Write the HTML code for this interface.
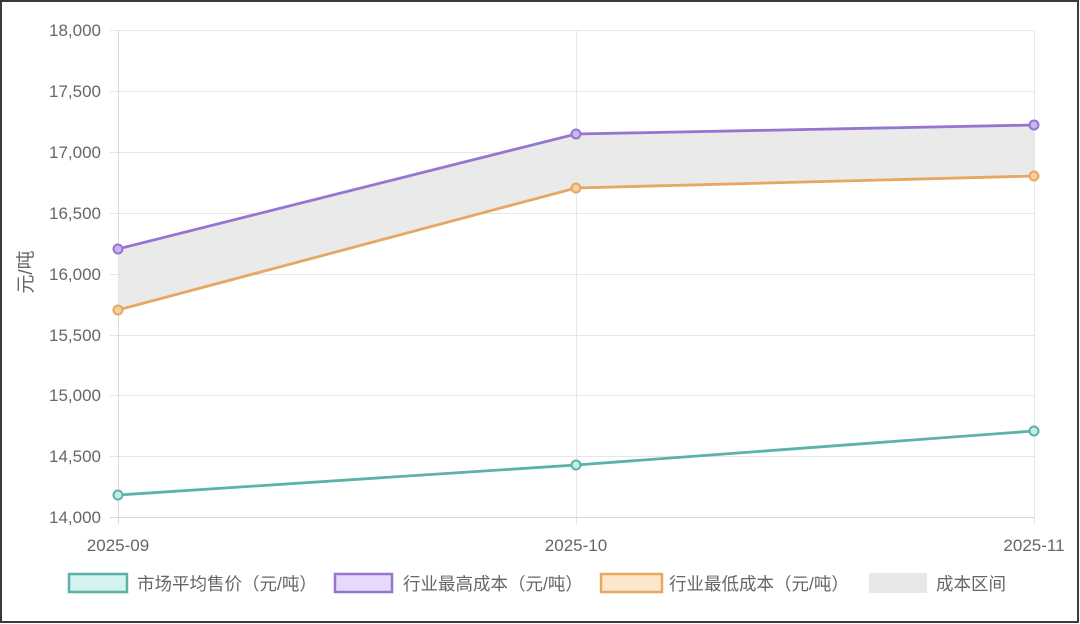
<!DOCTYPE html>
<html><head><meta charset="utf-8"><style>
html,body{margin:0;padding:0;background:#fff;}
body{width:1080px;height:624px;overflow:hidden;}
svg{display:block;}
text{font-family:"Liberation Sans","Noto Sans CJK SC",sans-serif;fill:#666;}
</style></head><body>
<svg width="1080" height="624" viewBox="0 0 1080 624" xmlns="http://www.w3.org/2000/svg">
<rect x="0" y="0" width="1080" height="624" fill="#fff"/>
<rect x="1" y="1" width="1077" height="621" fill="none" stroke="#3a3a3a" stroke-width="2"/>
<!-- horizontal grid -->
<g stroke="#e6e6e6" stroke-width="1">
<line x1="110" y1="30.5" x2="1034" y2="30.5"/>
<line x1="110" y1="91.5" x2="1034" y2="91.5"/>
<line x1="110" y1="152.5" x2="1034" y2="152.5"/>
<line x1="110" y1="213.5" x2="1034" y2="213.5"/>
<line x1="110" y1="274.5" x2="1034" y2="274.5"/>
<line x1="110" y1="335.5" x2="1034" y2="335.5"/>
<line x1="110" y1="395.5" x2="1034" y2="395.5"/>
<line x1="110" y1="456.5" x2="1034" y2="456.5"/>
<line x1="110" y1="517.5" x2="1034" y2="517.5"/>
<line x1="118.5" y1="30" x2="118.5" y2="524"/>
<line x1="576.5" y1="30" x2="576.5" y2="524"/>
<line x1="1034.5" y1="30" x2="1034.5" y2="524"/>
</g>
<line x1="118.5" y1="30" x2="118.5" y2="524" stroke="#d8d8d8"/>
<line x1="110" y1="517.5" x2="1034" y2="517.5" stroke="#d8d8d8"/>
<!-- y labels -->
<g font-size="17" text-anchor="end">
<text x="101" y="36">18,000</text>
<text x="101" y="97">17,500</text>
<text x="101" y="158">17,000</text>
<text x="101" y="219">16,500</text>
<text x="101" y="280">16,000</text>
<text x="101" y="341">15,500</text>
<text x="101" y="401">15,000</text>
<text x="101" y="462">14,500</text>
<text x="101" y="523">14,000</text>
</g>
<text transform="translate(32,272) rotate(-90)" font-size="19" text-anchor="middle">元/吨</text>
<!-- x labels -->
<g font-size="17" text-anchor="middle">
<text x="118" y="551">2025-09</text>
<text x="576" y="551">2025-10</text>
<text x="1034" y="551">2025-11</text>
</g>
<!-- fill band -->
<polygon points="118,249 576,134 1034,125 1034,176 576,188 118,310" fill="#e6e6e6" fill-opacity="0.85"/>
<!-- lines -->
<polyline points="118,249 576,134 1034,125" fill="none" stroke="#9675d2" stroke-width="2.8"/>
<polyline points="118,310 576,188 1034,176" fill="none" stroke="#e5a762" stroke-width="2.8"/>
<polyline points="118,495 576,465 1034,431" fill="none" stroke="#5ab2a8" stroke-width="2.8"/>
<!-- points -->
<g stroke="#9675d2" stroke-width="2" fill="#c9b3f0">
<circle cx="118" cy="249" r="4.5"/><circle cx="576" cy="134" r="4.5"/><circle cx="1034" cy="125" r="4.5"/>
</g>
<g stroke="#e5a762" stroke-width="2" fill="#f6cf9e">
<circle cx="118" cy="310" r="4.5"/><circle cx="576" cy="188" r="4.5"/><circle cx="1034" cy="176" r="4.5"/>
</g>
<g stroke="#5ab2a8" stroke-width="2" fill="#c6ecea">
<circle cx="118" cy="495" r="4.5"/><circle cx="576" cy="465" r="4.5"/><circle cx="1034" cy="431" r="4.5"/>
</g>
<!-- legend -->
<rect x="69" y="574" width="58" height="18" fill="#d3f2f0" stroke="#5ab2a8" stroke-width="2.5"/>
<text x="137" y="590" font-size="17.5">市场平均售价（元/吨）</text>
<rect x="335" y="574" width="57" height="18" fill="#e6dafa" stroke="#9675d2" stroke-width="2.5"/>
<text x="403" y="590" font-size="17.5">行业最高成本（元/吨）</text>
<rect x="601" y="574" width="61" height="18" fill="#fde6cb" stroke="#e5a762" stroke-width="2.5"/>
<text x="669" y="590" font-size="17.5">行业最低成本（元/吨）</text>
<rect x="869" y="573" width="58" height="20" fill="#e8e8e8"/>
<text x="936" y="590" font-size="17.5">成本区间</text>
</svg>
</body></html>
